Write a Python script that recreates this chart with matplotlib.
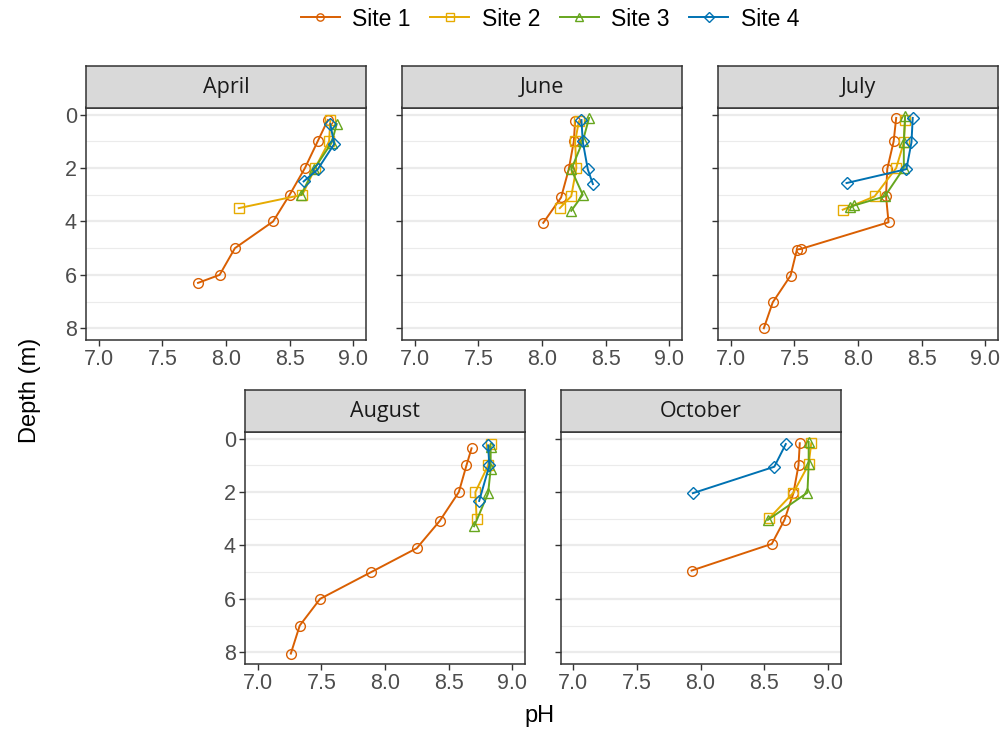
import matplotlib
matplotlib.use("Agg")
import matplotlib.pyplot as plt
from matplotlib.lines import Line2D

plt.rcParams['font.family'] = ['Liberation Sans', 'DejaVu Sans']

months = ["April", "June", "July", "August", "October"]
sites = ["Site 1", "Site 2", "Site 3", "Site 4"]

# depth (m) and pH per month per site
depth = {
    "April": {
        "Site 1": [0.2, 1.0, 2.0, 3.0, 4.0, 5.0, 6.0, 6.3],
        "Site 2": [0.2, 1.0, 2.0, 3.0, 3.5],
        "Site 3": [0.35, 1.05, 2.05, 3.0],
        "Site 4": [0.35, 1.1, 2.05, 2.5],
    },
    "June": {
        "Site 1": [0.25, 1.0, 2.05, 3.1, 4.05],
        "Site 2": [0.25, 1.0, 2.0, 3.05, 3.5],
        "Site 3": [0.12, 1.0, 2.05, 3.0, 3.6],
        "Site 4": [0.2, 1.0, 2.05, 2.6],
    },
    "July": {
        "Site 1": [0.12, 1.0, 2.03, 3.04, 4.03, 5.03, 5.05, 6.03, 7.03, 8.0],
        "Site 2": [0.2, 1.04, 2.0, 3.06, 3.56],
        "Site 3": [0.05, 1.04, 2.0, 3.06, 3.4, 3.47],
        "Site 4": [0.12, 1.04, 2.04, 2.56],
    },
    "August": {
        "Site 1": [0.36, 1.0, 2.0, 3.08, 4.1, 5.0, 6.0, 7.0, 8.05],
        "Site 2": [0.2, 1.0, 2.0, 3.02],
        "Site 3": [0.3, 1.15, 2.05, 3.28],
        "Site 4": [0.25, 1.0, 2.33],
    },
    "October": {
        "Site 1": [0.17, 1.0, 2.04, 3.04, 3.94, 4.94],
        "Site 2": [0.17, 0.96, 2.02, 2.98],
        "Site 3": [0.12, 0.96, 2.02, 3.04],
        "Site 4": [0.2, 1.05, 2.04],
    },
}
ph = {
    "April": {
        "Site 1": [8.80, 8.72, 8.62, 8.50, 8.37, 8.07, 7.95, 7.78],
        "Site 2": [8.82, 8.81, 8.70, 8.60, 8.10],
        "Site 3": [8.87, 8.83, 8.69, 8.59],
        "Site 4": [8.82, 8.85, 8.72, 8.61],
    },
    "June": {
        "Site 1": [8.26, 8.25, 8.21, 8.15, 8.01],
        "Site 2": [8.29, 8.26, 8.27, 8.23, 8.14],
        "Site 3": [8.37, 8.32, 8.23, 8.32, 8.23],
        "Site 4": [8.31, 8.32, 8.36, 8.40],
    },
    "July": {
        "Site 1": [8.30, 8.28, 8.23, 8.22, 8.24, 7.55, 7.52, 7.47, 7.33, 7.26],
        "Site 2": [8.37, 8.36, 8.30, 8.13, 7.88],
        "Site 3": [8.37, 8.36, 8.36, 8.21, 7.97, 7.94],
        "Site 4": [8.43, 8.42, 8.38, 7.91],
    },
    "August": {
        "Site 1": [8.68, 8.64, 8.58, 8.43, 8.25, 7.89, 7.49, 7.33, 7.26],
        "Site 2": [8.83, 8.81, 8.71, 8.72],
        "Site 3": [8.83, 8.83, 8.81, 8.70],
        "Site 4": [8.81, 8.82, 8.74],
    },
    "October": {
        "Site 1": [8.78, 8.77, 8.73, 8.66, 8.56, 7.93],
        "Site 2": [8.87, 8.85, 8.73, 8.54],
        "Site 3": [8.85, 8.85, 8.84, 8.53],
        "Site 4": [8.67, 8.58, 7.94],
    },
}

colors = {"Site 1": "#D95F02", "Site 2": "#E6AB02", "Site 3": "#66A61E", "Site 4": "#0072B2"}
markers = {"Site 1": "o", "Site 2": "s", "Site 3": "^", "Site 4": "D"}
msizes = {"Site 1": 7.0, "Site 2": 7.0, "Site 3": 7.5, "Site 4": 6.5}

x_ticks = [7.0, 7.5, 8.0, 8.5, 9.0]
y_ticks = [0, 2, 4, 6, 8]

W, H = 1007, 735
fig = plt.figure(figsize=(W / 100, H / 100), dpi=100)

pw, ph_h = 280, 232.5
strip_h = 42
boxes = {
    "April": (86, 107.5), "June": (402, 107.5), "July": (718, 107.5),
    "August": (245, 431.5), "October": (560.5, 431.5),
}
show_ylabels = {"April": True, "June": False, "July": False, "August": True, "October": False}

def fbox(l, t, w, h):
    return [l / W, 1 - (t + h) / H, w / W, h / H]

tick_col = "#4D4D4D"
border_col = "#333333"

for m in months:
    l, t = boxes[m]
    ax = fig.add_axes(fbox(l, t, pw, ph_h))
    for yv in [1, 3, 5, 7]:
        ax.axhline(yv, color="#EBEBEB", lw=0.8, zorder=0)
    for yv in y_ticks:
        ax.axhline(yv, color="#EBEBEB", lw=1.6, zorder=0)
    for i, s in enumerate(sites):
        ax.plot(ph[m][s], depth[m][s], color=colors[s], lw=1.4,
                marker=markers[s], ms=msizes[s], mfc="none", mew=1.0, zorder=2 + i)
    ax.set_xlim(6.9, 9.1)
    ax.set_ylim(8.44, -0.27)
    ax.set_xticks(x_ticks)
    ax.set_xticklabels([f"{v:.1f}" for v in x_ticks])
    ax.set_yticks(y_ticks)
    if show_ylabels[m]:
        ax.set_yticklabels([str(v) for v in y_ticks])
    else:
        ax.set_yticklabels([])
    ax.tick_params(axis="both", length=4.5, width=1.0, color=border_col,
                   labelsize=15.5, labelcolor=tick_col, pad=2)
    for sp in ax.spines.values():
        sp.set_color(border_col)
        sp.set_linewidth(1.1)
    sax = fig.add_axes(fbox(l, t - strip_h, pw, strip_h))
    sax.set_facecolor("#D9D9D9")
    sax.set_xticks([])
    sax.set_yticks([])
    for sp in sax.spines.values():
        sp.set_color(border_col)
        sp.set_linewidth(1.1)
    sax.text(0.5, 0.47, m, ha="center", va="center", fontsize=15.5,
             family=["Open Sans", "DejaVu Sans"],
             color="#1A1A1A", transform=sax.transAxes)

fig.text(540 / W, 1 - 716 / H, "pH", ha="center", va="center", fontsize=17, color="black")
fig.text(30 / W, 1 - 390 / H, "Depth (m)", ha="center", va="center", rotation=90,
         fontsize=17, color="black")

handles = [Line2D([0], [0], color=colors[s], lw=1.4, marker=markers[s],
                  ms=msizes[s] * 0.75, mfc="none", mew=1.0) for s in sites]
fig.legend(handles, sites, loc="center", bbox_to_anchor=(550 / W, 1 - 19 / H),
           ncol=4, frameon=False, fontsize=16.5, handlelength=1.7,
           columnspacing=0.85, handletextpad=0.55)

fig.savefig("out.png", dpi=100)
